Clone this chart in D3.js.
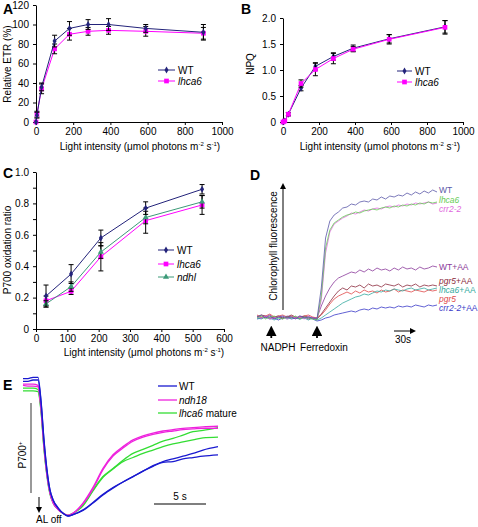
<!DOCTYPE html>
<html><head><meta charset="utf-8">
<script src="https://cdn.jsdelivr.net/npm/d3@7"></script>
<style>body{margin:0;background:#fff}svg{display:block;font-family:"Liberation Sans",Arial,sans-serif}</style>
</head><body><svg id="c" width="478" height="527"></svg>
<script>
// ---------- Panel A data ----------
const lightA = [0, 5, 30, 100, 180, 280, 390, 590, 900];
const etrWT = [0, 7, 36, 83, 96, 100, 100, 96, 92];
const etrWTerr = [0, 3, 4, 6, 7, 5, 6, 4, 8];
const etrLhca6 = [0, 8, 34, 75, 90, 93, 94, 93, 91];
const etrLhca6err = [0, 3, 5, 5, 6, 4, 4, 5, 6];
const ticksA_y = [0, 20, 40, 60, 80, 100, 120];
const ticksA_x = [0, 200, 400, 600, 800, 1000];
// ---------- Panel B data ----------
const lightB = [0, 10, 30, 100, 180, 280, 390, 590, 900];
const npqWT = [0, 0.02, 0.15, 0.65, 1.07, 1.26, 1.42, 1.6, 1.83];
const npqWTerr = [0, 0, 0.03, 0.05, 0.07, 0.07, 0.06, 0.08, 0.12];
const npqLhca6 = [0, 0.02, 0.15, 0.74, 1.01, 1.22, 1.4, 1.59, 1.82];
const npqLhca6err = [0, 0, 0.03, 0.07, 0.12, 0.1, 0.05, 0.09, 0.13];
const ticksB_y = [0, 0.5, 1.0, 1.5, 2.0];
const ticksB_x = [0, 200, 400, 600, 800, 1000];
// ---------- Panel C data ----------
const lightC = [32, 112, 207, 350, 530];
const p700WT = [0.21, 0.35, 0.58, 0.77, 0.89];
const p700WTerr = [0.07, 0.06, 0.05, 0.04, 0.03];
const p700Lhca6 = [0.18, 0.24, 0.46, 0.69, 0.79];
const p700Lhca6err = [0.03, 0.02, 0.09, 0.08, 0.06];
const p700Ndhl = [0.16, 0.27, 0.49, 0.71, 0.81];
const p700NdhlErr = [0.02, 0.03, 0.04, 0.04, 0.04];
const ticksC_y = [0, 0.2, 0.4, 0.6, 0.8, 1.0];
const ticksC_x = [0, 100, 200, 300, 400, 500, 600];
// ---------- Panel D data (time in s, step 6 s) ----------
const dTime = d3.range(0, 253, 6);
const dNames = ["WT", "lhca6", "crr2-2", "WT+AA", "pgr5+AA", "lhca6+AA", "pgr5", "crr2-2+AA"];
const dWT = [1,3,0,2,-1,1,2,0,1,-1,2,0,1,0,-1,30,80,97,103,106,110,111,114,113,116,117,116,119,118,121,119,122,121,123,122,125,123,126,124,127,125,128,126];
const dLhca6 = [0,2,-1,1,2,0,-1,1,0,2,-1,1,0,-1,-2,22,70,88,95,98,101,103,104,106,105,107,108,109,108,110,111,110,112,111,113,112,114,113,115,114,116,115,116];
const dCrr22 = [1,0,2,-1,0,1,2,-1,1,0,1,-1,2,0,-1,18,65,86,94,97,100,102,105,104,106,108,107,109,110,109,111,112,111,113,112,114,113,115,114,115,116,114,115];
const dWTAA = [2,0,1,3,0,1,-1,2,1,0,2,1,-1,0,0,12,22,30,36,40,42,44,46,45,48,46,49,47,50,48,49,47,50,48,51,49,50,48,51,49,50,52,51];
const dPgr5AA = [1,3,2,0,1,2,0,1,3,1,0,2,1,0,-1,4,10,16,22,27,30,28,32,31,33,30,34,32,33,31,34,33,32,34,31,33,32,34,31,33,32,33,32];
const dLhca6AA = [0,-1,1,0,-2,0,1,-1,0,1,-1,0,-2,0,-2,0,3,6,9,12,15,17,19,21,22,24,23,25,27,26,28,27,29,28,27,29,30,28,29,30,28,29,30];
const dPgr5 = [3,1,2,4,1,2,3,1,2,0,1,2,3,1,0,3,8,14,19,22,24,26,24,27,25,28,26,27,25,28,26,27,29,26,28,27,26,28,27,26,28,27,28];
const dCrr22AA = [-1,0,1,-1,0,-2,0,1,-1,0,-1,1,0,-1,-3,-2,0,1,3,4,5,6,7,6,8,9,8,10,9,11,10,11,10,12,11,12,11,13,12,11,13,12,13];
// ---------- Panel E data (time in s) ----------
const eTime = [0, 0.5, 1.0, 1.5, 1.8, 2.1, 2.4, 2.7, 3.0, 3.5, 4.0, 4.5, 5.0, 6, 7, 8, 9, 10, 11, 12, 13, 14, 15, 16, 17, 18, 19.5];
const eWT1 = [1.01,1.01,1.02,1.02,0.85,0.56,0.34,0.19,0.12,0.06,0.02,0.0,0.01,0.045,0.10,0.16,0.21,0.25,0.29,0.33,0.37,0.40,0.42,0.44,0.46,0.485,0.51];
const eWT2 = [0.99,0.99,1.0,1.0,0.84,0.55,0.33,0.19,0.12,0.06,0.02,0.0,0.01,0.04,0.095,0.155,0.205,0.25,0.29,0.33,0.365,0.395,0.40,0.42,0.43,0.44,0.45];
const eNdh1 = [0.97,0.97,0.97,0.96,0.80,0.52,0.31,0.17,0.10,0.05,0.02,0.005,0.02,0.095,0.21,0.35,0.45,0.51,0.56,0.59,0.61,0.625,0.635,0.645,0.65,0.655,0.66];
const eNdh2 = [0.96,0.955,0.955,0.95,0.79,0.51,0.30,0.17,0.10,0.05,0.02,0.005,0.02,0.09,0.20,0.34,0.44,0.50,0.55,0.58,0.60,0.615,0.625,0.635,0.64,0.645,0.645];
const eLh1 = [0.94,0.94,0.94,0.93,0.78,0.50,0.30,0.17,0.10,0.05,0.02,0.005,0.02,0.08,0.19,0.29,0.35,0.41,0.46,0.49,0.52,0.55,0.57,0.595,0.62,0.63,0.65];
const eLh2 = [0.92,0.92,0.92,0.915,0.77,0.49,0.29,0.16,0.10,0.05,0.02,0.005,0.02,0.075,0.185,0.285,0.345,0.40,0.43,0.46,0.485,0.51,0.53,0.545,0.56,0.575,0.58];

const svg = d3.select("#c");
const FONT = 10;
const cNavy = "#23237a", cMag = "#ff00ff", cTeal = "#3c9a78";

function letter(t, x, y) {
  svg.append("text").attr("x", x).attr("y", y).attr("font-size", 14).attr("font-weight", "bold").text(t);
}
function styleAxis(g) {
  g.selectAll("path,line").attr("stroke", "#000").attr("stroke-width", 1);
  g.selectAll("text").attr("font-size", FONT).attr("fill", "#000").attr("font-family", '"Liberation Sans",Arial,sans-serif');
}
function axes(x, y, xt, yt, yfmt, minorY) {
  const gx = svg.append("g").attr("transform", `translate(0,${y.range()[0]})`)
    .call(d3.axisBottom(x).tickValues(xt).tickSize(3).tickSizeOuter(0).tickPadding(3).tickFormat(d3.format("d")));
  styleAxis(gx);
  const gy = svg.append("g").attr("transform", `translate(${x.range()[0]},0)`)
    .call(d3.axisLeft(y).tickValues(yt).tickSize(3).tickSizeOuter(0).tickPadding(4).tickFormat(yfmt));
  styleAxis(gy);
  if (minorY) {
    const gm = svg.append("g").attr("transform", `translate(${x.range()[0]},0)`)
      .call(d3.axisLeft(y).tickValues(minorY).tickSize(3).tickFormat(""));
    styleAxis(gm); gm.select(".domain").remove();
  }
}
function series(x, y, xs, ys, err, color, marker, msize, lw) {
  const g = svg.append("g");
  g.append("path").datum(xs.map((v, i) => [v, ys[i]]))
    .attr("d", d3.line().x(d => x(d[0])).y(d => y(d[1])))
    .attr("fill", "none").attr("stroke", color).attr("stroke-width", lw || 1);
  xs.forEach((v, i) => {
    if (err && err[i] > 0) {
      const cx = x(v), y1 = y(ys[i] - err[i]), y2 = y(ys[i] + err[i]);
      g.append("line").attr("x1", cx).attr("x2", cx).attr("y1", y1).attr("y2", y2).attr("stroke", "#000").attr("stroke-width", 1);
      [y1, y2].forEach(yy => g.append("line").attr("x1", cx - 2.5).attr("x2", cx + 2.5).attr("y1", yy).attr("y2", yy).attr("stroke", "#000").attr("stroke-width", 1));
    }
  });
  xs.forEach((v, i) => {
    g.append("path").attr("d", d3.symbol(marker, msize)()).attr("transform", `translate(${x(v)},${y(ys[i])})`).attr("fill", color);
  });
}
function legendRow(x1, x2, y, color, marker, msize, label, italic) {
  svg.append("line").attr("x1", x1).attr("x2", x2).attr("y1", y).attr("y2", y).attr("stroke", color).attr("stroke-width", 1);
  svg.append("path").attr("d", d3.symbol(marker, msize)()).attr("transform", `translate(${(x1 + x2) / 2},${y})`).attr("fill", color);
  svg.append("text").attr("x", x2 + 3).attr("y", y + 3.5).attr("font-size", 10).attr("font-style", italic ? "italic" : "normal").text(label);
}
function xLabel(cx, y) {
  const t = svg.append("text").attr("x", cx).attr("y", y).attr("font-size", FONT).attr("text-anchor", "middle");
  t.append("tspan").text("Light intensity (μmol photons m");
  t.append("tspan").attr("font-size", 6).attr("dy", -4).text("-2");
  t.append("tspan").attr("dy", 4).text(" s");
  t.append("tspan").attr("font-size", 6).attr("dy", -4).text("-1");
  t.append("tspan").attr("dy", 4).text(")");
}
function yLabel(text, x, cy) {
  svg.append("text").attr("transform", `translate(${x},${cy}) rotate(-90)`).attr("text-anchor", "middle").attr("font-size", FONT).text(text);
}
const diamond = d3.symbolDiamond, square = d3.symbolSquare, tri = d3.symbolTriangle;

// ---------- Panel A ----------
letter("A", 3, 14);
const xA = d3.scaleLinear([0, 1000], [36, 222]);
const yA = d3.scaleLinear([0, 120], [122, 5]);
axes(xA, yA, ticksA_x, ticksA_y, d3.format("d"));
series(xA, yA, lightA, etrLhca6, etrLhca6err, cMag, square, 22);
series(xA, yA, lightA, etrWT, etrWTerr, cNavy, diamond, 14);
legendRow(158, 175, 70, cNavy, diamond, 14, "WT", false);
legendRow(158, 175, 81, cMag, square, 22, "lhca6", true);
yLabel("Relative ETR (%)", 11, 64);
xLabel(140, 150);

// ---------- Panel B ----------
letter("B", 241, 14);
const xB = d3.scaleLinear([0, 1000], [283, 463]);
const yB = d3.scaleLinear([0, 2.0], [122, 18]);
axes(xB, yB, ticksB_x, ticksB_y, d => d === 0 ? "0" : d3.format(".1f")(d));
series(xB, yB, lightB, npqWT, npqWTerr, cNavy, diamond, 14);
series(xB, yB, lightB, npqLhca6, npqLhca6err, cMag, square, 22);
legendRow(397, 412, 71, cNavy, diamond, 14, "WT", false);
legendRow(397, 412, 82, cMag, square, 22, "lhca6", true);
yLabel("NPQ", 254, 64);
xLabel(380, 150);

// ---------- Panel C ----------
letter("C", 3, 178);
const xC = d3.scaleLinear([0, 600], [36, 224]);
const yC = d3.scaleLinear([0, 1.0], [329, 172]);
axes(xC, yC, ticksC_x, ticksC_y, d => d === 0 ? "0" : d3.format(".1f")(d), [0.1, 0.3, 0.5, 0.7, 0.9]);
series(xC, yC, lightC, p700Lhca6, p700Lhca6err, cMag, square, 22);
series(xC, yC, lightC, p700Ndhl, p700NdhlErr, cTeal, tri, 16);
series(xC, yC, lightC, p700WT, p700WTerr, cNavy, diamond, 14);
legendRow(158, 174, 250, cNavy, diamond, 14, "WT", false);
legendRow(158, 174, 264, cMag, square, 22, "lhca6", true);
legendRow(158, 174, 277, cTeal, tri, 16, "ndhl", true);
yLabel("P700 oxidation ratio", 11, 250);
xLabel(144, 356);

// ---------- Panel D ----------
letter("D", 250, 180);
const xD = d3.scaleLinear([0, 252], [257, 437]);
const yD = d3.scaleLinear([0, 140], [318, 178]);
const dSeries = [dWT, dLhca6, dCrr22, dWTAA, dPgr5AA, dLhca6AA, dPgr5, dCrr22AA];
const dColors = ["#5a58a8", "#66cc55", "#e066dd", "#8a3a9a", "#8b2a3c", "#33aaa0", "#e04848", "#3838c8"];
const dLabelY = [193, 203, 212, 270, 284, 293, 302, 311];
const dItalic = [false, true, true, false, true, true, true, true];
const dDraw = [7, 6, 5, 4, 3, 2, 1, 0];
dDraw.forEach(k => {
  svg.append("path").datum(dTime.map((t, i) => [t, dSeries[k][i]]))
    .attr("d", d3.line().x(d => xD(d[0])).y(d => yD(d[1])))
    .attr("fill", "none").attr("stroke", dColors[k]).attr("stroke-width", 0.8);
});
dNames.forEach((n, k) => {
  const t = svg.append("text").attr("x", 439).attr("y", dLabelY[k]).attr("font-size", 8.5).attr("fill", dColors[k]);
  const m = n.match(/^(.*?)(\+AA)?$/);
  t.append("tspan").attr("font-style", dItalic[k] ? "italic" : "normal").text(m[1]);
  if (m[2]) t.append("tspan").attr("font-style", "normal").text(m[2]);
});
// y arrow
const defs = svg.append("defs");
defs.append("marker").attr("id", "ah").attr("viewBox", "0 0 10 10").attr("refX", 5).attr("refY", 5)
  .attr("markerWidth", 6).attr("markerHeight", 6).attr("orient", "auto-start-reverse")
  .append("path").attr("d", "M0,0L10,5L0,10z").attr("fill", "#000");
svg.append("line").attr("x1", 283).attr("x2", 283).attr("y1", 310).attr("y2", 186).attr("stroke", "#000").attr("stroke-width", 1).attr("marker-end", "url(#ah)");
yLabel("Chlorophyll fluorescence", 277, 246);
// event arrows
[[20, "NADPH", 278], [84, "Ferredoxin", 324]].forEach(([t, lab, lx]) => {
  const x = xD(t);
  svg.append("line").attr("x1", x).attr("x2", x).attr("y1", 338).attr("y2", 331).attr("stroke", "#000").attr("stroke-width", 1.8).attr("marker-end", "url(#ah)");
  svg.append("text").attr("x", lx).attr("y", 351).attr("text-anchor", "middle").attr("font-size", 10).text(lab);
});
// 30 s arrow
svg.append("line").attr("x1", 394).attr("x2", 413).attr("y1", 331).attr("y2", 331).attr("stroke", "#000").attr("stroke-width", 1).attr("marker-end", "url(#ah)");
svg.append("text").attr("x", 403).attr("y", 343).attr("text-anchor", "middle").attr("font-size", 10).text("30s");

// ---------- Panel E ----------
letter("E", 3, 390);
const xE = d3.scaleLinear([0, 19.5], [23, 218]);
const yE = d3.scaleLinear([0, 1], [516, 380]);
const eSeries = [[eLh1, "#33dd33"], [eLh2, "#33dd33"], [eNdh1, "#ee22dd"], [eNdh2, "#ee22dd"], [eWT1, "#1a1ad0"], [eWT2, "#1a1ad0"]];
eSeries.forEach(([vals, col]) => {
  svg.append("path").datum(eTime.map((t, i) => [t, vals[i]]))
    .attr("d", d3.line().curve(d3.curveMonotoneX).x(d => xE(d[0])).y(d => yE(d[1])))
    .attr("fill", "none").attr("stroke", col).attr("stroke-width", 1.3);
});
[["WT", "#1a1ad0", 386, false, ""], ["ndh18", "#ee22dd", 400, true, ""], ["lhca6", "#33dd33", 413, true, " mature"]].forEach(([n, col, y, it, rest]) => {
  svg.append("line").attr("x1", 158).attr("x2", 177).attr("y1", y).attr("y2", y).attr("stroke", col).attr("stroke-width", 1.3);
  const t = svg.append("text").attr("x", 179).attr("y", y + 4).attr("font-size", 10);
  t.append("tspan").attr("font-style", it ? "italic" : "normal").text(n);
  if (rest) t.append("tspan").text(rest);
});
// P700+ bar
svg.append("line").attr("x1", 31).attr("x2", 31).attr("y1", 403).attr("y2", 493).attr("stroke", "#555").attr("stroke-width", 1.2);
const pl = svg.append("text").attr("transform", "translate(26,455) rotate(-90)").attr("text-anchor", "middle").attr("font-size", 10);
pl.append("tspan").text("P700");
pl.append("tspan").attr("font-size", 6).attr("dy", -4).text("+");
// AL off
svg.append("line").attr("x1", 39).attr("x2", 39).attr("y1", 497).attr("y2", 510).attr("stroke", "#000").attr("stroke-width", 1).attr("marker-end", "url(#ah)");
svg.append("text").attr("x", 36).attr("y", 523).attr("font-size", 10).text("AL off");
// 5 s bar
svg.append("line").attr("x1", xE(13.1)).attr("x2", xE(18.3)).attr("y1", 504).attr("y2", 504).attr("stroke", "#000").attr("stroke-width", 1.2);
svg.append("text").attr("x", (xE(13.1) + xE(18.3)) / 2).attr("y", 500).attr("text-anchor", "middle").attr("font-size", 10).text("5 s");
</script></body></html>
